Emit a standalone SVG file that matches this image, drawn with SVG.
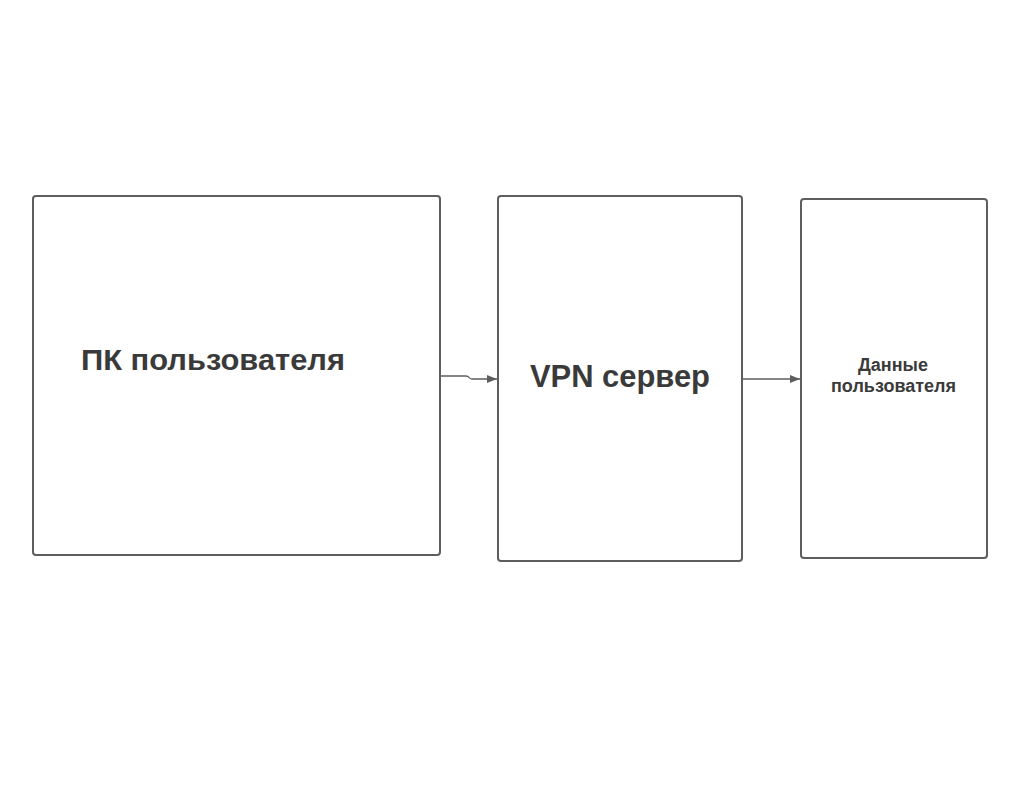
<svg xmlns="http://www.w3.org/2000/svg" width="1024" height="791" viewBox="0 0 1024 791">
<style>
.box{fill:#fff;stroke:#5e5e5e;stroke-width:2}
.lbl{font-family:"Liberation Sans",Arial,sans-serif;font-weight:bold;fill:#3a3a3a}
.conn{fill:none;stroke:#5e5e5e;stroke-width:1.3}
</style>
<defs>
<marker id="arr" viewBox="0 0 10 8" refX="10" refY="4" markerWidth="10" markerHeight="8" markerUnits="userSpaceOnUse" orient="auto">
<path d="M0,0 L10,4 L0,8 Z" fill="#5e5e5e"/>
</marker>
</defs>
<rect width="1024" height="791" fill="#fff"/>
<g id="pc">
<rect class="box" x="33" y="196" width="407" height="359" rx="3"/>
<text class="lbl" x="81" y="370" font-size="30" textLength="264" lengthAdjust="spacingAndGlyphs">ПК пользователя</text>
</g>
<g id="vpn">
<rect class="box" x="498" y="196" width="244" height="365" rx="3"/>
<text class="lbl" x="530" y="387" font-size="31" textLength="180" lengthAdjust="spacingAndGlyphs">VPN сервер</text>
</g>
<g id="data">
<rect class="box" x="801" y="199" width="186" height="359" rx="3"/>
<text class="lbl" x="858" y="371" font-size="18" textLength="70" lengthAdjust="spacingAndGlyphs">Данные</text>
<text class="lbl" x="831" y="392" font-size="18" textLength="125" lengthAdjust="spacingAndGlyphs">пользователя</text>
</g>
<g id="connectors">
<path class="conn" d="M441,376 H466 Q468,376 469,377.5 Q470,379 472,379 H497" marker-end="url(#arr)"/>
<path class="conn" d="M743,379 H800" marker-end="url(#arr)"/>
</g>
</svg>
